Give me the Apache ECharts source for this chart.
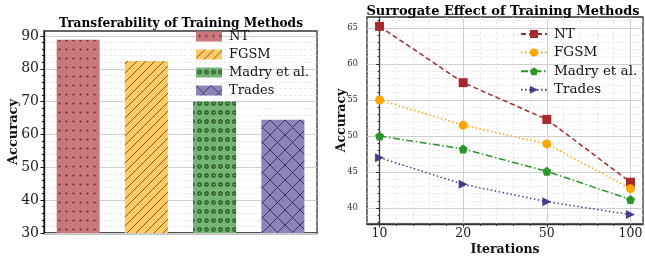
<!DOCTYPE html>
<html>
<head>
<meta charset="utf-8">
<script src="https://cdn.jsdelivr.net/npm/echarts@6/dist/echarts.min.js"></script>
<style>
  html, body { margin: 0; padding: 0; background: #fff; }
  #chart { width: 645px; height: 259px; }
</style>
</head>
<body>
<div id="chart"></div>
<script>
// left panel: transferability
const methods = ['NT', 'FGSM', 'Madry et al.', 'Trades'];
const transferAcc = [88.8, 82.4, 70.0, 64.5];
const transferTicks = [30, 40, 50, 60, 70, 80, 90];

// right panel: surrogate effect
const iterLabels = ['10', '20', '50', '100'];
const ntAcc = [65.2, 57.4, 52.3, 43.6];
const fgsmAcc = [55.0, 51.5, 48.9, 42.7];
const madryAcc = [50.0, 48.2, 45.1, 41.2];
const tradesAcc = [47.0, 43.3, 40.9, 39.1];
const surrogateTicks = [40, 45, 50, 55, 60, 65];

const FONT = 'DejaVu Serif';

function hatch(bg, w, h, draw) {
  const c = document.createElement('canvas');
  c.width = w;
  c.height = h;
  const ctx = c.getContext('2d');
  ctx.fillStyle = bg;
  ctx.fillRect(0, 0, w, h);
  draw(ctx);
  return { image: c, repeat: 'repeat' };
}

const barFills = [
  // dots
  hatch('#c9777a', 7, 9, (ctx) => {
    ctx.fillStyle = '#5e2f31';
    ctx.beginPath();
    ctx.arc(3.5, 4.5, 1.1, 0, Math.PI * 2);
    ctx.fill();
  }),
  // forward slashes
  hatch('#ffc964', 9, 9, (ctx) => {
    ctx.strokeStyle = '#7a5a22';
    ctx.lineWidth = 1;
    [-9, 0, 9].forEach((o) => {
      ctx.beginPath();
      ctx.moveTo(o, 9);
      ctx.lineTo(o + 9, 0);
      ctx.stroke();
    });
  }),
  // small rings
  hatch('#72b672', 7, 9, (ctx) => {
    ctx.strokeStyle = '#1f4a1f';
    ctx.lineWidth = 1.2;
    ctx.beginPath();
    ctx.arc(3.5, 4.5, 1.7, 0, Math.PI * 2);
    ctx.stroke();
  }),
  // crosshatch
  hatch('#8b85ba', 15, 15, (ctx) => {
    ctx.strokeStyle = '#3a3560';
    ctx.lineWidth = 1;
    ctx.beginPath();
    ctx.moveTo(0, 0); ctx.lineTo(15, 15);
    ctx.moveTo(15, 0); ctx.lineTo(0, 15);
    ctx.stroke();
  }),
];

function minorValues(lo, hi, step, majors) {
  const out = [];
  for (let v = lo; v <= hi + 1e-9; v += step) {
    const r = Math.round(v * 100) / 100;
    if (!majors.some((m) => Math.abs(m - r) < 1e-6)) out.push(r);
  }
  return out;
}

const majorGrid = { show: true, lineStyle: { color: '#cfcfcf', width: 1 } };
const minorGrid = { show: true, lineStyle: { color: '#e6e6e6', width: 0.8, type: [3, 2] } };

const chart = echarts.init(document.getElementById('chart'), null, { renderer: 'canvas' });

const lineSeries = [
  { name: 'NT', data: ntAcc, color: '#a52a2a', symbol: 'rect', size: 9, dash: [5, 3] },
  { name: 'FGSM', data: fgsmAcc, color: '#ffa500', symbol: 'circle', size: 9, dash: [1.5, 2.5] },
  { name: 'Madry et al.', data: madryAcc, color: '#2a962a', symbol: 'path://M0,-1 L0.951,-0.309 L0.588,0.809 L-0.588,0.809 L-0.951,-0.309 Z', size: 9, dash: [7, 2.5, 1.5, 2.5] },
  { name: 'Trades', data: tradesAcc, color: '#483d8b', symbol: 'triangle', size: 9, dash: [1.5, 2.5], rotate: -90 },
];

chart.setOption({
  animation: false,
  textStyle: { fontFamily: FONT },
  title: [
    {
      text: 'Transferability of Training Methods',
      left: 176,
      top: 13,
      textAlign: 'center',
      textStyle: { fontFamily: FONT, fontSize: 12.2, fontWeight: 'bold', color: '#000' },
    },
    {
      text: 'Surrogate Effect of Training Methods',
      left: 498,
      top: 0,
      textAlign: 'center',
      textStyle: { fontFamily: FONT, fontSize: 13, fontWeight: 'bold', color: '#000' },
    },
  ],
  legend: [
    {
      orient: 'vertical',
      left: 191,
      top: 25,
      itemWidth: 26,
      itemHeight: 10,
      itemGap: 5,
      icon: 'rect',
      data: methods,
      textStyle: { fontFamily: FONT, fontSize: 13, color: '#111', padding: [0, 0, 0, 2] },
    },
    {
      orient: 'vertical',
      left: 515,
      top: 22,
      itemWidth: 26,
      itemHeight: 10,
      itemGap: 4.6,
      data: lineSeries.map((s) => s.name + ' '),
      formatter: (name) => name.trim(),
      textStyle: { fontFamily: FONT, fontSize: 13.5, color: '#111', padding: [0, 0, 0, 2] },
    },
  ],
  grid: [
    { left: 44, top: 31, width: 273, height: 202, outerBoundsMode: 'none', containLabel: false, show: true, borderColor: '#333', borderWidth: 1.3, backgroundColor: 'transparent' },
    { left: 367, top: 17, width: 276, height: 207, outerBoundsMode: 'none', containLabel: false, show: true, borderColor: '#333', borderWidth: 1.3, backgroundColor: 'transparent' },
  ],
  xAxis: [
    {
      type: 'category',
      gridIndex: 0,
      data: methods,
      boundaryGap: true,
      axisLine: { lineStyle: { color: '#111', width: 1.3 } },
      axisTick: { show: false },
      axisLabel: { show: false },
      splitLine: { show: false },
    },
    {
      type: 'value',
      gridIndex: 1,
      position: 'bottom',
      min: -0.15,
      max: 3.15,
      name: 'Iterations',
      nameLocation: 'middle',
      nameGap: 19,
      nameMoveOverlap: false,
      nameTextStyle: { fontFamily: FONT, fontSize: 12.5, fontWeight: 'bold', color: '#111' },
      axisLine: { lineStyle: { color: '#333', width: 1.3 } },
      axisTick: { customValues: [0, 1, 2, 3], length: 3.5, lineStyle: { color: '#333' } },
      axisLabel: {
        customValues: [0, 1, 2, 3],
        formatter: (v) => iterLabels[Math.round(v)],
        fontFamily: FONT,
        fontSize: 12.5,
        color: '#222',
        margin: 3,
      },
      splitLine: majorGrid,
      z: 2,
    },
    {
      type: 'value',
      gridIndex: 1,
      position: 'bottom',
      min: -0.15,
      max: 3.15,
      axisLine: { show: false },
      axisTick: { customValues: minorValues(0, 3, 0.2, [0, 1, 2, 3]), length: 2, lineStyle: { color: '#333' } },
      axisLabel: { show: false },
      splitLine: minorGrid,
      z: 1,
    },
  ],
  yAxis: [
    {
      type: 'value',
      gridIndex: 0,
      position: 'left',
      min: 30,
      max: 91.5,
      name: 'Accuracy',
      nameLocation: 'middle',
      nameGap: 24,
      nameMoveOverlap: false,
      nameTextStyle: { fontFamily: FONT, fontSize: 13, fontWeight: 'bold', color: '#111' },
      axisLine: { show: true, lineStyle: { color: '#111', width: 1.3 } },
      axisTick: { show: true, customValues: transferTicks, length: 3.5, lineStyle: { color: '#111' } },
      axisLabel: { customValues: transferTicks, fontFamily: FONT, fontSize: 14, color: '#222', margin: 5 },
      splitLine: majorGrid,
      z: 2,
    },
    {
      type: 'value',
      gridIndex: 0,
      position: 'left',
      min: 30,
      max: 91.5,
      axisLine: { show: false },
      axisTick: { show: true, customValues: minorValues(30, 90, 2, transferTicks), length: 2, lineStyle: { color: '#111' } },
      axisLabel: { show: false },
      splitLine: minorGrid,
      z: 1,
    },
    {
      type: 'value',
      gridIndex: 1,
      position: 'left',
      min: 37.8,
      max: 66.5,
      name: 'Accuracy',
      nameLocation: 'middle',
      nameGap: 19,
      nameMoveOverlap: false,
      nameTextStyle: { fontFamily: FONT, fontSize: 12.5, fontWeight: 'bold', color: '#111' },
      axisLine: { show: true, lineStyle: { color: '#333', width: 1.3 } },
      axisTick: { show: true, customValues: surrogateTicks, length: 3.5, lineStyle: { color: '#333' } },
      axisLabel: { customValues: surrogateTicks, fontFamily: FONT, fontSize: 8.5, color: '#333', margin: 9 },
      splitLine: majorGrid,
      z: 2,
    },
    {
      type: 'value',
      gridIndex: 1,
      position: 'left',
      min: 37.8,
      max: 66.5,
      axisLine: { show: false },
      axisTick: { show: true, customValues: minorValues(38, 66, 1, surrogateTicks), length: 2, lineStyle: { color: '#333' } },
      axisLabel: { show: false },
      splitLine: minorGrid,
      z: 1,
    },
  ],
  series: [
    ...methods.map((m, i) => ({
      name: m,
      type: 'bar',
      xAxisIndex: 0,
      yAxisIndex: 0,
      barWidth: 43,
      barGap: '-100%',
      itemStyle: { color: barFills[i] },
      data: [[i, transferAcc[i]]],
      z: 3,
    })),
    ...lineSeries.map((s) => ({
      name: s.name + ' ',
      type: 'line',
      xAxisIndex: 1,
      yAxisIndex: 2,
      symbol: s.symbol,
      symbolSize: s.size,
      symbolRotate: s.rotate || 0,
      itemStyle: { color: s.color },
      lineStyle: { color: s.color, width: 1.5, type: s.dash },
      data: s.data.map((v, i) => [i, v]),
      z: 3,
    })),
  ],
});
</script>
</body>
</html>
